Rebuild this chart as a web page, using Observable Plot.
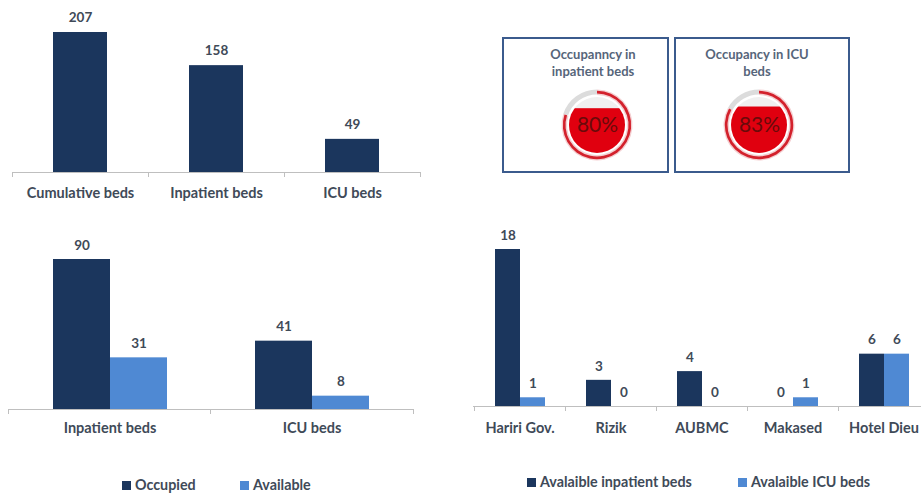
<!DOCTYPE html>
<html><head><meta charset="utf-8">
<script src="https://cdn.jsdelivr.net/npm/d3@7"></script>
<script src="https://cdn.jsdelivr.net/npm/@observablehq/plot@0.6"></script>
<style>
body{margin:0;background:#fff;}
#wrap{position:relative;width:921px;height:495px;overflow:hidden;font-family:Lato,"DejaVu Sans",sans-serif;color:#404a58;background:#fff;}
.abs{position:absolute;}
.abs svg{max-width:none !important;}
.box{position:absolute;border:2.5px solid #3b5b8d;box-sizing:border-box;}
.title{position:absolute;font-weight:bold;font-size:13px;line-height:17px;text-align:center;color:#56657a;white-space:nowrap;}
.leg{position:absolute;font-weight:bold;font-size:14.3px;line-height:16px;height:16px;display:flex;align-items:center;white-space:nowrap;color:#404a58;}
.sw{display:inline-block;width:9px;height:9px;margin-right:4px;}
</style></head><body><div id="wrap"></div>
<script>
// ---- data ----
const totalCategories = ["Cumulative beds", "Inpatient beds", "ICU beds"];
const totalValues = [207, 158, 49];

const statusCategories = ["Inpatient beds", "ICU beds"];
const statusSeries = ["Occupied", "Available"];
const occupiedValues = [90, 41];
const availableValues = [31, 8];

const hospitals = ["Hariri Gov.", "Rizik", "AUBMC", "Makased", "Hotel Dieu"];
const hospitalSeries = ["Avalaible inpatient beds", "Avalaible ICU beds"];
const availInpatient = [18, 3, 4, 0, 6];
const availICU = [1, 0, 0, 1, 6];

const gaugeTitles = [["Occupanncy in", "inpatient beds"], ["Occupancy in ICU", "beds"]];
const gaugeValues = [80, 83];

const colors = ["#1b365d", "#4f89d3"];
const textColor = "#404a58";

// ---- helpers ----
const wrap = document.getElementById("wrap");
function place(node, left, top) {
  const d = document.createElement("div");
  d.className = "abs"; d.style.left = left + "px"; d.style.top = top + "px";
  d.appendChild(node); wrap.appendChild(d); return d;
}
const baseStyle = {background: "transparent", overflow: "visible", fontFamily: "Lato, sans-serif", color: textColor, maxWidth: "none"};

function addBaseline(svg, xName) {
  const xs = svg.scale(xName), ys = svg.scale("y");
  const y0 = ys.apply(0);
  const [r0, r1] = xs.range;
  const dom = xs.domain;
  const step = dom.length > 1 ? xs.apply(dom[1]) - xs.apply(dom[0]) : (r1 - r0);
  const gap = step - xs.bandwidth;
  const g = d3.select(svg).append("g").attr("stroke", "#bfbfbf").attr("stroke-width", 1).attr("shape-rendering", "crispEdges");
  g.append("line").attr("x1", r0).attr("x2", r1).attr("y1", y0).attr("y2", y0);
  dom.map(d => xs.apply(d) - gap / 2).concat([r1]).forEach(b =>
    g.append("line").attr("x1", b).attr("x2", b).attr("y1", y0).attr("y2", y0 + 5));
}

const numText = {fontSize: 13.5, fontWeight: "bold", fill: textColor};
const catText = {fontSize: 14.5, fontWeight: "bold", fill: textColor};

// ---- chart 1: total beds ----
const totalRows = totalCategories.map((c, i) => ({cat: c, value: totalValues[i]}));
const p1 = Plot.plot({
  width: 430, height: 215, marginLeft: 12, marginRight: 10, marginTop: 32, marginBottom: 43,
  style: baseStyle,
  x: {domain: totalCategories, paddingInner: 0.6, paddingOuter: 0.3, axis: null},
  y: {domain: [0, d3.max(totalValues)], axis: null},
  marks: [
    Plot.barY(totalRows, {x: "cat", y: "value", fill: colors[0]}),
    Plot.text(totalRows, {x: "cat", y: "value", text: d => String(d.value), dy: -15, ...numText}),
    Plot.text(totalRows, {x: "cat", frameAnchor: "bottom", dy: 25, text: "cat", ...catText})
  ]
});
addBaseline(p1, "x");
place(p1, 0, 0);

// ---- chart 2: occupied vs available ----
const statusRows = statusCategories.flatMap((c, i) => [
  {cat: c, series: statusSeries[0], value: occupiedValues[i]},
  {cat: c, series: statusSeries[1], value: availableValues[i]}
]);
const p2 = Plot.plot({
  width: 423, height: 214, marginLeft: 8, marginRight: 10, marginTop: 29, marginBottom: 35,
  style: baseStyle,
  fx: {domain: statusCategories, paddingInner: 0.432, paddingOuter: 0.216, axis: null, label: null},
  x: {domain: statusSeries, padding: 0, axis: null},
  y: {domain: [0, d3.max(occupiedValues.concat(availableValues))], axis: null},
  color: {domain: statusSeries, range: colors},
  marks: [
    Plot.barY(statusRows, {fx: "cat", x: "series", y: "value", fill: "series"}),
    Plot.text(statusRows, {fx: "cat", x: "series", y: "value", text: d => String(d.value), dy: -14, ...numText}),
    Plot.text(statusCategories, {fx: d => d, frameAnchor: "bottom", dy: 23, text: d => d, ...catText})
  ]
});
addBaseline(p2, "fx");
place(p2, 0, 230);

// ---- chart 3: availability by hospital ----
const hospRows = hospitals.flatMap((h, i) => [
  {cat: h, series: hospitalSeries[0], value: availInpatient[i]},
  {cat: h, series: hospitalSeries[1], value: availICU[i]}
]);
const p3 = Plot.plot({
  width: 475, height: 210, marginLeft: 13, marginRight: 5, marginTop: 19, marginBottom: 34,
  style: baseStyle,
  fx: {domain: hospitals, paddingInner: 0.443, paddingOuter: 0.2215, axis: null, label: null},
  x: {domain: hospitalSeries, padding: 0, axis: null},
  y: {domain: [0, d3.max(availInpatient.concat(availICU))], axis: null},
  color: {domain: hospitalSeries, range: colors},
  marks: [
    Plot.barY(hospRows, {fx: "cat", x: "series", y: "value", fill: "series"}),
    Plot.text(hospRows, {fx: "cat", x: "series", y: "value", text: d => String(d.value), dy: -14, ...numText}),
    Plot.text(hospitals, {fx: d => d, frameAnchor: "bottom", dy: 26, text: d => d, ...catText})
  ]
});
addBaseline(p3, "fx");
place(p3, 460, 230);

// ---- legends ----
function legendItem(label, color, left, top) {
  const d = document.createElement("div");
  d.className = "leg"; d.style.left = left + "px"; d.style.top = top + "px";
  const s = document.createElement("span"); s.className = "sw"; s.style.background = color;
  d.appendChild(s); d.appendChild(document.createTextNode(label));
  wrap.appendChild(d);
}
legendItem(statusSeries[0], colors[0], 122, 477);
legendItem(statusSeries[1], colors[1], 240, 477);
legendItem(hospitalSeries[0], colors[0], 527, 474);
legendItem(hospitalSeries[1], colors[1], 738, 474);

// ---- gauges ----
const boxes = [{left: 502, width: 167, cx: 597, tc: 593}, {left: 674, width: 176, cx: 759, tc: 757}];
let clipCount = 0;
function gaugeRender(value) {
  return (index, scales) => {
    const cx = scales.x(0), cy = scales.y(0);
    const g = d3.create("svg:g").attr("transform", `translate(${cx},${cy})`);
    const end = 2 * Math.PI * value / 100;
    const arc = d3.arc();
    g.append("path").attr("d", arc({innerRadius: 30.5, outerRadius: 35.5, startAngle: end, endAngle: 2 * Math.PI})).attr("fill", "#dcdcdc");
    g.append("path").attr("d", arc({innerRadius: 30, outerRadius: 35.5, startAngle: 0, endAngle: end})).attr("fill", "#f4cfd1");
    g.append("path").attr("d", arc({innerRadius: 31.5, outerRadius: 34.2, startAngle: 0, endAngle: end})).attr("fill", "#d3212c");
    const R = 28;
    const id = "gclip" + (clipCount++);
    g.append("clipPath").attr("id", id).append("circle").attr("r", R);
    g.append("circle").attr("r", R).attr("fill", "#f0f0f0");
    const level = R - 2 * R * value / 100;
    g.append("rect").attr("clip-path", `url(#${id})`).attr("x", -R).attr("width", 2 * R)
      .attr("y", level).attr("height", R - level).attr("fill", "#e0000f");
    return g.node();
  };
}
gaugeValues.forEach((v, i) => {
  const b = boxes[i];
  const box = document.createElement("div");
  box.className = "box";
  Object.assign(box.style, {left: b.left + "px", top: "37px", width: b.width + "px", height: "136px"});
  wrap.appendChild(box);
  const t = document.createElement("div");
  t.className = "title";
  Object.assign(t.style, {left: (b.tc - 70) + "px", width: "140px", top: "46px"});
  t.innerHTML = gaugeTitles[i].join("<br>");
  wrap.appendChild(t);
  const gp = Plot.plot({
    width: 80, height: 80, margin: 0, style: baseStyle,
    x: {domain: [-1, 1], axis: null}, y: {domain: [-1, 1], axis: null},
    marks: [
      gaugeRender(v),
      Plot.text([v], {x: 0, y: 0, text: d => d + "%", fontSize: 21, fill: "#6a0a0a", fontFamily: "Lato, sans-serif"})
    ]
  });
  place(gp, b.cx - 40, 85);
});
</script></body></html>
